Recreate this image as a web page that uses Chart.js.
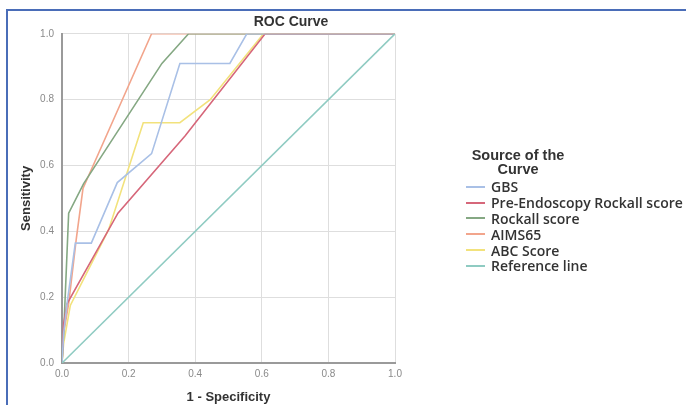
<!DOCTYPE html>
<html>
<head>
<meta charset="utf-8">
<script src="https://cdn.jsdelivr.net/npm/chart.js@4.4.1/dist/chart.umd.min.js"></script>
<style>
    html, body {
        margin: 0;
        padding: 0;
        background: #ffffff;
        overflow: hidden;
    }
    #wrap {
        position: relative;
        width: 686px;
        height: 405px;
    }
    #frame {
        position: absolute;
        left: 6px;
        top: 9px;
        width: 700px;
        height: 430px;
        border: 2px solid #4a6db8;
        box-sizing: border-box;
    }
    #rocChart {
        position: absolute;
        left: 0;
        top: 0;
    }
    #legend {
        position: absolute;
        left: 466px;
        top: 148px;
        font-family: "Open Sans", sans-serif;
        color: #333;
    }
    #legendTitle {
        font-family: "Liberation Sans", Arial, sans-serif;
        font-weight: bold;
        font-size: 14.5px;
        line-height: 14px;
        text-align: center;
        width: 104px;
        margin-bottom: 3px;
        color: #333;
    }
    .item {
        display: flex;
        align-items: center;
        height: 15.8px;
        font-size: 14px;
        font-weight: 600;
        white-space: nowrap;
    }
    .swatch {
        width: 19px;
        height: 2px;
        margin-right: 6px;
    }
</style>
</head>
<body>
<div id="wrap">
    <div id="frame"></div>
    <canvas id="rocChart" width="582" height="405"></canvas>
    <div id="legend">
        <div id="legendTitle">Source of the<br>Curve</div>
        <div id="legendItems"></div>
    </div>
</div>
<script>
const seriesNames = ["GBS", "Pre-Endoscopy Rockall score", "Rockall score", "AIMS65", "ABC Score", "Reference line"];
const seriesColors = ["#a9c0e6", "#d6677a", "#85a883", "#f2a58c", "#f2e27c", "#8fcbc2"];

const gbsX = [0, 0.005, 0.015, 0.04, 0.088, 0.166, 0.269, 0.354, 0.504, 0.555, 1];
const gbsY = [0, 0.09, 0.18, 0.364, 0.364, 0.548, 0.636, 0.91, 0.91, 1, 1];

const preRockallX = [0, 0.005, 0.015, 0.168, 0.37, 0.61, 1];
const preRockallY = [0, 0.12, 0.18, 0.455, 0.69, 1, 1];

const rockallX = [0, 0.005, 0.02, 0.065, 0.30, 0.38, 1];
const rockallY = [0, 0.09, 0.455, 0.545, 0.91, 1, 1];

const aimsX = [0, 0.005, 0.02, 0.043, 0.063, 0.269, 1];
const aimsY = [0, 0.09, 0.18, 0.378, 0.53, 1, 1];

const abcX = [0, 0.005, 0.025, 0.14, 0.244, 0.354, 0.445, 0.605, 1];
const abcY = [0, 0.06, 0.175, 0.405, 0.73, 0.73, 0.8, 1, 1];

const refX = [0, 1];
const refY = [0, 1];

const axisTicks = [0, 0.2, 0.4, 0.6, 0.8, 1.0];

function toPoints(xs, ys) {
    return xs.map((x, i) => ({ x: x, y: ys[i] }));
}

const allX = [gbsX, preRockallX, rockallX, aimsX, abcX, refX];
const allY = [gbsY, preRockallY, rockallY, aimsY, abcY, refY];

// draw reference first so the curves sit on top
const drawOrder = [5, 0, 1, 2, 4, 3];
const datasets = drawOrder.map((i) => ({
    label: seriesNames[i],
    data: toPoints(allX[i], allY[i]),
    borderColor: seriesColors[i],
    borderWidth: 1.6,
    pointRadius: 0,
    fill: false,
    tension: 0,
}));

const tickFont = { family: "Liberation Sans, Arial, sans-serif", size: 10 };
const titleFont = { family: "Liberation Sans, Arial, sans-serif", size: 13, weight: "bold" };

new Chart(document.getElementById("rocChart"), {
    type: "line",
    data: { datasets },
    options: {
        responsive: false,
        animation: false,
        layout: {
            padding: { left: 14, right: 14, top: 0, bottom: 0 },
        },
        plugins: {
            legend: { display: false },
            tooltip: { enabled: false },
            title: {
                display: true,
                text: "ROC Curve",
                color: "#333",
                font: { family: "Liberation Sans, Arial, sans-serif", size: 14, weight: "bold" },
                padding: { top: 14, bottom: 3 },
            },
        },
        scales: {
            x: {
                type: "linear",
                min: 0,
                max: 1,
                afterBuildTicks: (scale) => {
                    scale.ticks = axisTicks.map((v) => ({ value: v }));
                },
                afterFit: (scale) => {
                    scale.height = 42;
                },
                ticks: {
                    color: "#8a8a8a",
                    font: tickFont,
                    padding: 5,
                    maxRotation: 0,
                    callback: (v) => Number(v).toFixed(1),
                },
                grid: {
                    color: "#dedede",
                    lineWidth: 1,
                    drawTicks: false,
                },
                border: { color: "#9a9a9a", width: 2 },
                title: {
                    display: true,
                    text: "1 - Specificity",
                    color: "#333",
                    font: titleFont,
                    padding: { top: 0, bottom: 0 },
                },
            },
            y: {
                type: "linear",
                min: 0,
                max: 1,
                afterBuildTicks: (scale) => {
                    scale.ticks = axisTicks.map((v) => ({ value: v }));
                },
                afterFit: (scale) => {
                    scale.width = 48;
                },
                ticks: {
                    color: "#8a8a8a",
                    font: tickFont,
                    padding: 8,
                    callback: (v) => Number(v).toFixed(1),
                },
                grid: {
                    color: "#dedede",
                    lineWidth: 1,
                    drawTicks: false,
                },
                border: { color: "#9a9a9a", width: 2 },
                title: {
                    display: true,
                    text: "Sensitivity",
                    color: "#333",
                    font: titleFont,
                    padding: { top: 5, bottom: 0 },
                },
            },
            // empty right axis reserves the room the legend sits in
            spacer: {
                type: "linear",
                position: "right",
                min: 0,
                max: 1,
                afterFit: (scale) => {
                    scale.width = 173;
                },
                ticks: { display: false },
                grid: { display: false },
                border: { display: false },
            },
        },
    },
});

const legendItems = document.getElementById("legendItems");
seriesNames.forEach((name, i) => {
    const row = document.createElement("div");
    row.className = "item";
    row.innerHTML = `<span class="swatch" style="background:${seriesColors[i]}"></span>${name}`;
    legendItems.appendChild(row);
});
</script>
</body>
</html>
